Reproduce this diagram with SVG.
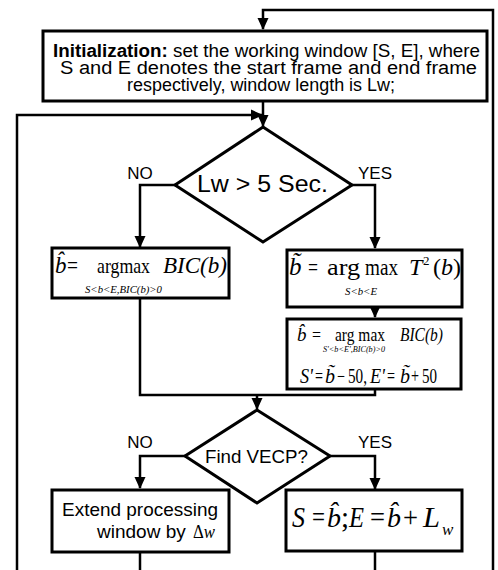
<svg xmlns="http://www.w3.org/2000/svg" width="498" height="570" viewBox="0 0 498 570">
<style>
.box{fill:#fff;stroke:#000;stroke-width:3}
.ln{fill:none;stroke:#000;stroke-width:2.5}
.sans{font-family:"Liberation Sans",Arial,sans-serif;fill:#000}
.ser{font-family:"Liberation Serif","Times New Roman",serif;fill:#000}
.it{font-style:italic}
</style>
<defs>
<marker id="ah" markerUnits="userSpaceOnUse" markerWidth="12" markerHeight="12" viewBox="0 0 12 12" refX="11" refY="6" orient="auto">
<path d="M0,0.5 L12,6 L0,11.5 Z" fill="#000"/>
</marker>
</defs>
<rect width="498" height="570" fill="#fff"/>
<g id="connectors">
<path class="ln" d="M493,570 V10 H263 V29" marker-end="url(#ah)"/>
<path class="ln" d="M263,101 V126" marker-end="url(#ah)"/>
<path class="ln" d="M17,570 V115 H262" marker-end="url(#ah)"/>
<path class="ln" d="M175,185 H140 V247" marker-end="url(#ah)"/>
<path class="ln" d="M352,185 H375 V248" marker-end="url(#ah)"/>
<path class="ln" d="M375,307 V317" marker-end="url(#ah)"/>
<path class="ln" d="M140,298 V395 H375 V389"/>
<path class="ln" d="M257,395 V409" marker-end="url(#ah)"/>
<path class="ln" d="M185,456 H140 V488" marker-end="url(#ah)"/>
<path class="ln" d="M330,456 H375 V489" marker-end="url(#ah)"/>
<path class="ln" d="M140,552 V570"/>
<path class="ln" d="M375,551 V570"/>
</g>
<g id="init">
<rect class="box" x="43" y="31" width="444" height="70"/>
<text class="sans" font-size="18" x="53" y="57" textLength="427" lengthAdjust="spacingAndGlyphs"><tspan font-weight="bold">Initialization:</tspan> set the working window [S, E], where</text>
<text class="sans" font-size="18" x="60" y="74" textLength="417" lengthAdjust="spacingAndGlyphs">S and E denotes the start frame and end frame</text>
<text class="sans" font-size="18" x="127" y="91" textLength="268" lengthAdjust="spacingAndGlyphs">respectively, window length is Lw;</text>
</g>
<g id="decision1">
<polygon class="box" points="263,127 352,185 263,242 175,185"/>
<text class="sans" font-size="23" x="197" y="192" textLength="131" lengthAdjust="spacingAndGlyphs">Lw &gt; 5 Sec.</text>
<text class="sans" font-size="17" text-anchor="middle" x="140" y="179">NO</text>
<text class="sans" font-size="17" text-anchor="middle" x="375" y="179">YES</text>
</g>
<g id="bicbox">
<rect class="box" x="52" y="248" width="177" height="50"/>
<text class="ser it" font-size="23" x="55" y="273">b̂</text>
<text class="ser" font-size="24" x="67" y="273" textLength="11" lengthAdjust="spacingAndGlyphs">=</text>
<text class="ser" font-size="22" x="97" y="273" textLength="53" lengthAdjust="spacingAndGlyphs">argmax</text>
<text class="ser it" font-size="24" x="163" y="273" textLength="64" lengthAdjust="spacingAndGlyphs">BIC(b)</text>
<text class="ser it" font-size="11" x="85" y="293" textLength="77" lengthAdjust="spacingAndGlyphs">S&lt;b&lt;E,BIC(b)&gt;0</text>
</g>
<g id="t2box">
<rect class="box" x="287" y="250" width="175" height="57"/>
<text class="ser it" font-size="25" x="289" y="275">b̃</text>
<text class="ser" font-size="24" x="308" y="275" textLength="10" lengthAdjust="spacingAndGlyphs">=</text>
<text class="ser" font-size="24" x="327" y="275" textLength="33" lengthAdjust="spacingAndGlyphs">arg</text>
<text class="ser" font-size="24" x="365" y="275" textLength="33" lengthAdjust="spacingAndGlyphs">max</text>
<text class="ser it" font-size="24" x="409" y="275">T</text>
<text class="ser" font-size="13" x="423" y="265">2</text>
<text class="ser" font-size="24" x="433" y="275" textLength="28" lengthAdjust="spacingAndGlyphs">(<tspan font-style="italic">b</tspan>)</text>
<text class="ser it" font-size="11" x="345" y="295" textLength="32" lengthAdjust="spacingAndGlyphs">S&lt;b&lt;E</text>
</g>
<g id="refinebox">
<rect class="box" x="287" y="319" width="174" height="70"/>
<text class="ser it" font-size="19" x="297" y="341">b̂</text>
<text class="ser" font-size="18" x="312" y="341" textLength="9" lengthAdjust="spacingAndGlyphs">=</text>
<text class="ser" font-size="18" x="335" y="341" textLength="50" lengthAdjust="spacingAndGlyphs">arg max</text>
<text class="ser it" font-size="18" x="400" y="341" textLength="43" lengthAdjust="spacingAndGlyphs">BIC(b)</text>
<text class="ser it" font-size="9" x="323" y="352" textLength="62" lengthAdjust="spacingAndGlyphs">S'&lt;b&lt;E',BIC(b)&gt;0</text>
<text class="ser it" font-size="20" x="300" y="383" textLength="13" lengthAdjust="spacingAndGlyphs">S'</text>
<text class="ser" font-size="20" x="315" y="383" textLength="8" lengthAdjust="spacingAndGlyphs">=</text>
<text class="ser it" font-size="20" x="325" y="383">b̃</text>
<text class="ser" font-size="20" x="337" y="383" textLength="8" lengthAdjust="spacingAndGlyphs">−</text>
<text class="ser" font-size="20" x="348" y="383" textLength="19" lengthAdjust="spacingAndGlyphs">50,</text>
<text class="ser it" font-size="20" x="370" y="383" textLength="15" lengthAdjust="spacingAndGlyphs">E'</text>
<text class="ser" font-size="20" x="387" y="383" textLength="8" lengthAdjust="spacingAndGlyphs">=</text>
<text class="ser it" font-size="20" x="400" y="383">b̃</text>
<text class="ser" font-size="20" x="411" y="383" textLength="8" lengthAdjust="spacingAndGlyphs">+</text>
<text class="ser" font-size="20" x="422" y="383" textLength="15" lengthAdjust="spacingAndGlyphs">50</text>
</g>
<g id="decision2">
<polygon class="box" points="257,410 330,456 257,503 185,456"/>
<text class="sans" font-size="18.5" x="205" y="463" textLength="103" lengthAdjust="spacingAndGlyphs">Find VECP?</text>
<text class="sans" font-size="17" text-anchor="middle" x="140" y="448">NO</text>
<text class="sans" font-size="17" text-anchor="middle" x="375" y="448">YES</text>
</g>
<g id="extendbox">
<rect class="box" x="52" y="490" width="177" height="62"/>
<text class="sans" font-size="19" x="62" y="516" textLength="156" lengthAdjust="spacingAndGlyphs">Extend processing</text>
<text class="sans" font-size="19" x="97" y="538">window by</text>
<text class="ser it" font-size="19" x="193" y="538" textLength="22" lengthAdjust="spacingAndGlyphs"><tspan font-style="normal">Δ</tspan>w</text>
</g>
<g id="updatebox">
<rect class="box" x="286" y="490" width="176" height="61"/>
<text class="ser it" font-size="29" x="292" y="527" textLength="13" lengthAdjust="spacingAndGlyphs">S</text>
<text class="ser" font-size="29" x="312" y="527" textLength="13" lengthAdjust="spacingAndGlyphs">=</text>
<text class="ser it" font-size="28" x="327" y="527">b̂</text>
<text class="ser" font-size="29" x="341" y="527">;</text>
<text class="ser it" font-size="29" x="349" y="527" textLength="15" lengthAdjust="spacingAndGlyphs">E</text>
<text class="ser" font-size="29" x="370" y="527" textLength="15" lengthAdjust="spacingAndGlyphs">=</text>
<text class="ser it" font-size="28" x="387" y="527">b̂</text>
<text class="ser" font-size="29" x="403" y="527" textLength="15" lengthAdjust="spacingAndGlyphs">+</text>
<text class="ser it" font-size="29" x="423" y="527" textLength="17" lengthAdjust="spacingAndGlyphs">L</text>
<text class="ser it" font-size="17" x="442" y="535">w</text>
</g>
</svg>
